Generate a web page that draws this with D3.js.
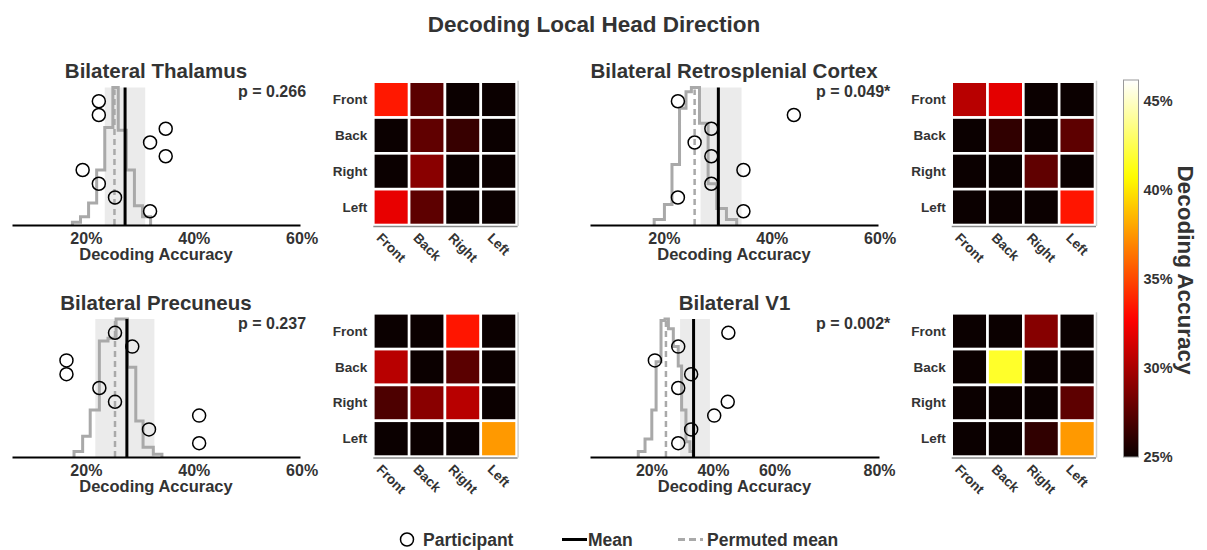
<!DOCTYPE html>
<html><head><meta charset="utf-8">
<script src="https://cdn.jsdelivr.net/npm/d3@7"></script>
<style>
body{margin:0;background:#fff}
text{font-family:"Liberation Sans",Arial,sans-serif;font-weight:bold;fill:#333}
</style>
</head><body><svg id="c" width="1207" height="550"></svg>
<script>
// ---------------- data ----------------
const chartTitle = "Decoding Local Head Direction";
const regions = ["Bilateral Thalamus", "Bilateral Retrosplenial Cortex", "Bilateral Precuneus", "Bilateral V1"];
const pValues = ["p = 0.266", "p = 0.049*", "p = 0.237", "p = 0.002*"];
const thalamusScores = [22.4, 22.4, 34.8, 31.9, 34.8, 19.4, 22.4, 25.4, 31.9];
const rscScores = [22.6, 44.1, 28.8, 25.7, 28.8, 34.75, 28.8, 22.6, 34.75];
const precuneusScores = [25.4, 28.6, 16.4, 16.4, 22.5, 25.4, 41.0, 31.7, 41.0];
const v1Scores = [45.0, 28.7, 21.1, 32.9, 28.7, 44.8, 40.4, 32.9, 28.7];
const permutedMeans = [25.3, 25.7, 25.4, 24.7];
const ciLow = [23.5, 26.8, 21.75, 29.3];
const ciHigh = [31.0, 34.4, 32.7, 39.0];
// permutation histograms: bin edges (%) and relative heights
const thalamusHistEdges = [17.5, 19, 20.5, 22, 23.5, 25, 26, 27.5, 29, 30.5, 32];
const thalamusHistHeights = [0.02, 0.06, 0.16, 0.40, 0.71, 1.0, 0.69, 0.40, 0.14, 0.06];
const rscHistEdges = [18.2, 20.1, 21.5, 22.9, 24.1, 25.1, 26.6, 28.2, 29.8, 31.6, 33.5];
const rscHistHeights = [0.04, 0.15, 0.44, 0.85, 0.97, 1.0, 0.74, 0.30, 0.12, 0.04];
const precuneusHistEdges = [17.8, 19.4, 20.8, 22.5, 24.1, 25.6, 27.7, 29.25, 30.6, 32.5, 34.1];
const precuneusHistHeights = [0.04, 0.15, 0.34, 0.84, 0.86, 1.0, 0.65, 0.26, 0.07, 0.02];
const v1HistEdges = [15.7, 17.9, 20.1, 21.5, 23.1, 24.4, 25.5, 27.1, 28.7, 29.8, 31.2, 32.5, 33.6];
const v1HistHeights = [0.04, 0.13, 0.34, 0.69, 0.99, 1.0, 0.93, 0.80, 0.66, 0.34, 0.11, 0.04];
const axisTickValues = [[20, 40, 60], [20, 40, 60], [20, 40, 60], [20, 40, 60, 94]];
const axisTickLabels = [["20%", "40%", "60%"], ["20%", "40%", "60%"], ["20%", "40%", "60%"], ["20%", "40%", "60%", "80%"]];
const axisDomains = [[6.3, 59.7], [6.3, 59.7], [6.3, 59.7], [0, 94]];
const directions = ["Front", "Back", "Right", "Left"];
// confusion matrices (decoding accuracy %), rows = true, cols = predicted
const thalamusMatrix = [[33.5, 27.5, 25, 25], [25, 27.7, 26.4, 25], [25, 29.0, 25, 25], [32.0, 27.6, 25, 25]];
const rscMatrix = [[30.5, 31.9, 25, 25], [25, 26.2, 25, 27.6], [25, 25, 27.7, 25], [25, 25, 25, 33.4]];
const precuneusMatrix = [[25, 25, 33.4, 25], [30.5, 25, 27.5, 25], [27.1, 29.0, 30.5, 25], [25, 25, 25, 37.6]];
const v1Matrix = [[25, 25, 28.9, 25], [25, 41.7, 25, 25], [25, 25, 25, 27.6], [25, 25, 26.2, 37.6]];
const colorDomain = [25, 46.2];
const colorTickValues = [25, 30, 35, 40, 45];
const colorTickLabels = ["25%", "30%", "35%", "40%", "45%"];
const colorbarTitle = "Decoding Accuracy";
const axisTitle = "Decoding Accuracy";
const legendLabels = ["Participant", "Mean", "Permuted mean"];

const scores = [thalamusScores, rscScores, precuneusScores, v1Scores];
const histEdges = [thalamusHistEdges, rscHistEdges, precuneusHistEdges, v1HistEdges];
const histHeights = [thalamusHistHeights, rscHistHeights, precuneusHistHeights, v1HistHeights];
const matrices = [thalamusMatrix, rscMatrix, precuneusMatrix, v1Matrix];

// ---------------- layout ----------------
const layout = [
  {x0: 12, x1: 300, axisY: 225, top: 87.5, hx: 373.3, hy: 81.7},
  {x0: 590, x1: 878, axisY: 225, top: 87.5, hx: 951.7, hy: 81.7},
  {x0: 12, x1: 300, axisY: 457, top: 319, hx: 373.3, hy: 313.3},
  {x0: 590, x1: 879, axisY: 457, top: 319, hx: 951.7, hy: 313.3}
];
const hmSize = 143.3;
const gray = "#a9a9a9";

function hot(t) {
  t = Math.max(0, Math.min(1, t));
  const a = 0.365079, b = 0.746032;
  const r = t < a ? 0.0416 + (1 - 0.0416) * t / a : 1;
  const g = t < a ? 0 : (t < b ? (t - a) / (b - a) : 1);
  const bl = t < b ? 0 : (t - b) / (1 - b);
  return d3.rgb(r * 255, g * 255, bl * 255).toString();
}
const color = d3.scaleSequential(hot).domain(colorDomain);

const svg = d3.select("#c");

svg.append("text").attr("x", 594).attr("y", 32).attr("text-anchor", "middle")
  .style("font-size", "22.5px").text(chartTitle);

layout.forEach((L, i) => {
  const g = svg.append("g");
  const x = d3.scaleLinear().domain(axisDomains[i]).range([L.x0, L.x1]);
  const y = d3.scaleLinear().domain([0, 10]).range([L.axisY, L.top]);
  const yh = d3.scaleLinear().domain([0, 1]).range([L.axisY, L.top]);

  // CI band
  g.append("rect").attr("x", x(ciLow[i])).attr("y", L.top)
    .attr("width", x(ciHigh[i]) - x(ciLow[i])).attr("height", L.axisY - L.top)
    .attr("fill", "#ebebeb");

  // permutation histogram (step outline)
  const e = histEdges[i], h = histHeights[i];
  const pts = [[e[0], 0]];
  h.forEach((v, k) => { pts.push([e[k], v]); pts.push([e[k + 1], v]); });
  pts.push([e[e.length - 1], 0]);
  g.append("path").attr("d", d3.line().x(d => x(d[0])).y(d => yh(d[1]))(pts))
    .attr("fill", "none").attr("stroke", gray).attr("stroke-width", 3);

  // permuted mean
  g.append("line").attr("x1", x(permutedMeans[i])).attr("x2", x(permutedMeans[i]))
    .attr("y1", L.axisY).attr("y2", L.top + 2)
    .attr("stroke", gray).attr("stroke-width", 2.5).attr("stroke-dasharray", "6,4");
  // mean
  const m = d3.mean(scores[i]);
  g.append("line").attr("x1", x(m)).attr("x2", x(m)).attr("y1", L.axisY).attr("y2", L.top)
    .attr("stroke", "#000").attr("stroke-width", 3);

  // participants
  g.selectAll("circle.p").data(scores[i]).join("circle")
    .attr("cx", d => x(d)).attr("cy", (d, k) => y(9 - k)).attr("r", 6.5)
    .attr("fill", "none").attr("stroke", "#000").attr("stroke-width", 1.5);

  // axis
  const ax = g.append("g").attr("transform", `translate(0,${L.axisY})`)
    .call(d3.axisBottom(x).tickValues(axisTickValues[i]).tickSize(0).tickSizeOuter(0)
      .tickFormat((d, k) => axisTickLabels[i][k]));
  ax.select(".domain").attr("stroke", "#000").attr("stroke-width", 2);
  ax.selectAll("text").attr("y", 0).attr("dy", 19)
    .style("font-size", "16px").style("font-family", null).attr("fill", "#333");
  ax.attr("font-family", null).attr("font-size", null);

  g.append("text").attr("x", (L.x0 + L.x1) / 2).attr("y", L.axisY + 35)
    .attr("text-anchor", "middle").style("font-size", "16.5px").text(axisTitle);

  // title & p
  g.append("text").attr("x", (L.x0 + L.x1) / 2).attr("y", L.top - 9.5)
    .attr("text-anchor", "middle").style("font-size", "20.5px").text(regions[i]);
  g.append("text").attr("x", L.x0 + 226).attr("y", L.axisY - 128)
    .style("font-size", "16px").text(pValues[i]);

  // heatmap
  const bx = d3.scaleBand().domain(directions).range([L.hx, L.hx + hmSize]);
  const by = d3.scaleBand().domain(directions).range([L.hy, L.hy + hmSize]);
  const cells = [];
  matrices[i].forEach((row, r) => row.forEach((v, c) => cells.push({r: directions[r], c: directions[c], v})));
  g.selectAll("rect.cell").data(cells).join("rect")
    .attr("x", d => bx(d.c)).attr("y", d => by(d.r))
    .attr("width", bx.bandwidth()).attr("height", by.bandwidth())
    .attr("fill", d => color(d.v)).attr("stroke", "#fff").attr("stroke-width", 2.6);
  g.append("line").attr("x1", L.hx).attr("x2", L.hx + hmSize + 1)
    .attr("y1", L.hy + hmSize + 1.5).attr("y2", L.hy + hmSize + 1.5)
    .attr("stroke", "#8a8a8a").attr("stroke-width", 1.5);
  g.append("line").attr("x1", L.hx + hmSize + 1.5).attr("x2", L.hx + hmSize + 1.5)
    .attr("y1", L.hy - 1).attr("y2", L.hy + hmSize + 1)
    .attr("stroke", "#d0d0d0").attr("stroke-width", 1.5);
  g.selectAll("text.row").data(directions).join("text")
    .attr("x", L.hx - 6).attr("y", d => by(d) + by.bandwidth() / 2)
    .attr("text-anchor", "end").attr("dominant-baseline", "central")
    .style("font-size", "13.5px").text(d => d);
  g.selectAll("text.col").data(directions).join("text")
    .attr("text-anchor", "middle").attr("dominant-baseline", "central")
    .style("font-size", "13.5px").text(d => d)
    .each(function (d) {
      const len = this.getComputedTextLength();
      const cy = L.hy + hmSize + 7 + (len + 10) * 0.3535;
      d3.select(this).attr("transform", `translate(${bx(d) + bx.bandwidth() / 2},${cy}) rotate(45)`);
    });
});

// colorbar
const cb = {x: 1123.5, y0: 80, y1: 457, w: 15};
const cy = d3.scaleLinear().domain(colorDomain).range([cb.y1, cb.y0]);
const defs = svg.append("defs");
const grad = defs.append("linearGradient").attr("id", "hotgrad")
  .attr("x1", 0).attr("y1", 1).attr("x2", 0).attr("y2", 0);
d3.range(0, 1.0001, 0.02).forEach(t => {
  grad.append("stop").attr("offset", t).attr("stop-color", hot(t));
});
svg.append("rect").attr("x", cb.x).attr("y", cb.y0).attr("width", cb.w).attr("height", cb.y1 - cb.y0)
  .attr("fill", "url(#hotgrad)").attr("stroke", "#9a9a9a").attr("stroke-width", 1);
const cax = svg.append("g").attr("transform", `translate(${cb.x + cb.w},0)`)
  .call(d3.axisRight(cy).tickValues(colorTickValues).tickSize(0)
    .tickFormat((d, k) => colorTickLabels[k]));
cax.select(".domain").remove();
cax.attr("font-family", null).attr("font-size", null);
cax.selectAll("text").attr("x", 5).style("font-size", "14.5px").attr("fill", "#333");
svg.append("text").attr("transform", "translate(1185,270) rotate(90)")
  .attr("text-anchor", "middle").attr("dominant-baseline", "central")
  .style("font-size", "22.5px").text(colorbarTitle);

// legend
const ly = 539.5;
svg.append("circle").attr("cx", 407).attr("cy", ly).attr("r", 6.5)
  .attr("fill", "none").attr("stroke", "#000").attr("stroke-width", 1.5);
svg.append("text").attr("x", 423).attr("y", ly).attr("dominant-baseline", "central")
  .style("font-size", "17.5px").text(legendLabels[0]);
svg.append("line").attr("x1", 562).attr("x2", 587).attr("y1", ly).attr("y2", ly)
  .attr("stroke", "#000").attr("stroke-width", 3);
svg.append("text").attr("x", 588).attr("y", ly).attr("dominant-baseline", "central")
  .style("font-size", "17.5px").text(legendLabels[1]);
svg.append("line").attr("x1", 678).attr("x2", 703).attr("y1", ly).attr("y2", ly)
  .attr("stroke", gray).attr("stroke-width", 3).attr("stroke-dasharray", "7,4");
svg.append("text").attr("x", 707).attr("y", ly).attr("dominant-baseline", "central")
  .style("font-size", "17.5px").text(legendLabels[2]);
</script>
</body></html>
